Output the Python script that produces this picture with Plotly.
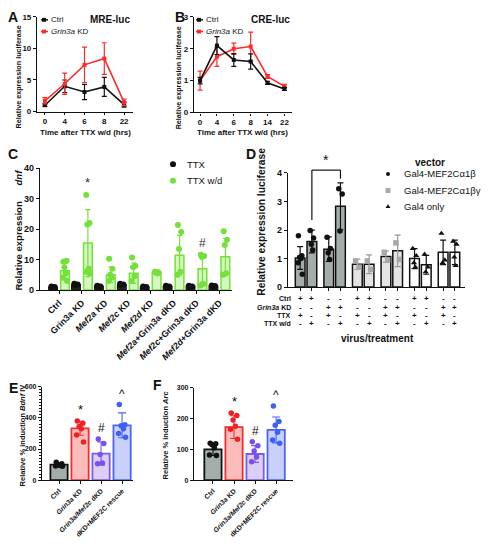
import plotly.graph_objects as go

# page is drawn with an 8px body margin, so the figure is 16px smaller than the window
W, H = 476, 530
OFF = 8
FONT = "Liberation Sans, Arial, Helvetica, sans-serif"

# ---------------- data ----------------
# Panel A: MRE-luc time course
time_a = ["0", "4", "6", "8", "22"]
mre_ctrl = [1.0, 4.0, 3.1, 3.9, 1.1]
mre_ctrl_sem = [0.2, 1.0, 1.2, 1.5, 0.4]
mre_kd = [1.7, 4.4, 7.4, 8.4, 1.45]
mre_kd_sem = [0.5, 1.7, 2.8, 2.5, 0.5]
mre_sig = ["", "", "*", "*", ""]

# Panel B: CRE-luc time course
time_b = ["0", "4", "6", "8", "14", "22"]
cre_ctrl = [1.0, 2.1, 1.65, 1.6, 0.93, 0.74]
cre_ctrl_sem = [0.1, 0.28, 0.2, 0.24, 0.05, 0.05]
cre_kd = [1.0, 1.75, 2.0, 2.07, 1.13, 0.82]
cre_kd_sem = [0.3, 0.3, 0.18, 0.45, 0.06, 0.06]

# Panel C: Bdnf expression
c_groups = ["Ctrl", "Grin3a KD", "<i>Mef2a</i> KD", "<i>Mef2c</i> KD", "<i>Mef2d</i> KD",
            "<i>Mef2a</i>+Grin3a dKD", "<i>Mef2c</i>+Grin3a dKD", "<i>Mef2d</i>+Grin3a dKD"]
c_ttx = [1.0, 1.8, 1.2, 1.8, 1.0, 1.2, 1.2, 1.3]
c_ttx_sem = [0.15, 0.3, 0.15, 0.3, 0.1, 0.15, 0.15, 0.15]
c_ttx_pts = [[1.2, 1.0, 0.8], [2.1, 1.8, 1.5], [1.4, 1.2, 1.0], [2.1, 1.8, 1.5],
             [1.2, 1.0, 0.8], [1.4, 1.2, 1.0], [1.4, 1.2, 1.0], [1.5, 1.3, 1.1]]
c_wd = [6.3, 15.4, 5.0, 5.5, 5.8, 11.4, 7.0, 10.9]
c_wd_sem = [2.5, 11.0, 2.5, 3.3, 0.3, 6.5, 4.5, 6.0]
c_wd_pts = [[9.3, 9.6, 7.5, 5.5, 4.0, 3.0], [31.2, 22.0, 21.5, 7.0, 6.0, 5.5],
            [10.3, 7.0, 5.0, 4.0, 3.0], [10.7, 8.0, 7.5, 4.5, 3.0], [6.0, 5.8, 5.6, 5.4],
            [21.3, 19.0, 13.5, 6.0, 5.0], [11.6, 11.2, 10.8, 2.0, 1.5], [19.3, 16.5, 14.8, 5.5, 5.0]]
c_sig = ["", "*", "", "", "", "", "#", ""]

# Panel D: Gal4-MEF2C reporter
d_vectors = ["Gal4-MEF2Cα1β", "Gal4-MEF2Cα1βγ", "Gal4 only"]
d_vals = [[1.02, 1.6, 1.33, 2.83], [0.8, 0.8, 1.07, 1.27], [1.0, 0.78, 1.22, 1.22]]
d_sem = [[0.4, 0.4, 0.43, 0.82], [0.18, 0.33, 0.2, 0.55], [0.35, 0.33, 0.43, 0.43]]
d_pts = [[[1.8, 1.1, 1.05, 1.0, 0.85, 0.45], [1.98, 1.72, 1.5, 1.3], [1.75, 1.35, 1.2, 0.97], [3.45, 3.26, 1.97]],
         [[0.92, 0.7], [0.92, 0.62], [1.22, 0.95], [1.55, 0.97]],
         [[1.35, 1.1, 0.85, 0.7], [1.15, 0.7, 0.53], [1.88, 0.95, 0.85], [1.6, 1.5, 1.05, 0.75]]]
d_row_names = ["Ctrl", "<i>Grin3a</i> KD", "TTX", "TTX w/d"]
d_rows = [["+", "+", "-", "-", "+", "+", "-", "-", "+", "+", "-", "-"],
          ["-", "-", "+", "+", "-", "-", "+", "+", "-", "-", "+", "+"],
          ["+", "-", "+", "-", "+", "-", "+", "-", "+", "-", "+", "-"],
          ["-", "+", "-", "+", "-", "+", "-", "+", "-", "+", "-", "+"]]

# Panels E / F
ef_groups = ["Ctrl", "<i>Grin3a</i> KD", "<i>Grin3a/Mef2c</i> dKD", "dKD+MEF2C rescue"]
e_vals = [100, 333, 171, 352]
e_sem = [10, 45, 75, 80]
e_pts = [[115, 105, 100, 95, 92, 90], [380, 365, 345, 330, 290, 245],
         [265, 235, 165, 110, 105], [485, 355, 350, 330, 300, 275]]
f_vals = [100, 172, 85, 163]
f_sem = [20, 37, 27, 42]
f_pts = [[120, 118, 115, 105, 82, 80], [218, 210, 195, 175, 165, 133],
         [125, 112, 95, 75, 60], [240, 190, 178, 155, 130, 120]]
ef_sig = ["", "*", "#", "^"]

# ---------------- helpers (window pixels -> paper) ----------------
def PX(x):
    return (x - OFF) / W

def PY(y):
    return 1 - (y - OFF) / H

def dom_x(a, b):
    return [PX(a), PX(b)]

def dom_y(top, bot):
    return [PY(bot), PY(top)]

jit = [-0.12, 0.12, -0.04, 0.06, -0.15, 0.15, 0.0]
BLACK = "#111111"
RED = "#ff2a2a"
GREEN = "#74e03a"
GREEN_FILL = "#d6f7c2"
ef_fill = ["#a3adaa", "#fbbcbc", "#dccff7", "#c9d1fb"]
ef_line = ["#111111", "#f03030", "#7a5af0", "#4a64f5"]
ef_dot = ["#111111", "#f02020", "#7a4ff0", "#3f5ff5"]
d_fill = ["#a3adaa", "#e4e4e4", "#ffffff"]
d_dot = ["#111111", "#a8a8a8", "#111111"]
d_sym = ["circle", "square", "triangle-up"]
d_err_col = ["#111111", "#9a9a9a", "#111111"]

fig = go.Figure()
ann = []
shapes = []

# ---------------- Panel A ----------------
for ys, es, col in [(mre_ctrl, mre_ctrl_sem, BLACK), (mre_kd, mre_kd_sem, RED)]:
    fig.add_trace(go.Scatter(x=time_a, y=ys, mode="lines+markers",
                             line=dict(color=col, width=1.6),
                             marker=dict(symbol="square", size=4, color=col),
                             error_y=dict(type="data", array=es, color=col, thickness=1.2, width=2.5),
                             xaxis="x", yaxis="y", showlegend=False, cliponaxis=False))
for i, s in enumerate(mre_sig):
    if s:
        ann.append(dict(x=time_a[i], y=mre_kd[i] + mre_kd_sem[i] + 0.2, xref="x", yref="y",
                        text=s, showarrow=False, yanchor="bottom", font=dict(size=15, color=BLACK)))

# ---------------- Panel B ----------------
for ys, es, col in [(cre_kd, cre_kd_sem, RED), (cre_ctrl, cre_ctrl_sem, BLACK)]:
    fig.add_trace(go.Scatter(x=time_b, y=ys, mode="lines+markers",
                             line=dict(color=col, width=1.6),
                             marker=dict(symbol="square", size=4, color=col),
                             error_y=dict(type="data", array=es, color=col, thickness=1.2, width=2.5),
                             xaxis="x2", yaxis="y2", showlegend=False, cliponaxis=False))

# ---------------- Panel C ----------------
nC = len(c_groups)
xb = [i - 0.26 for i in range(nC)]
xg = [i + 0.26 for i in range(nC)]
fig.add_trace(go.Bar(x=xb, y=c_ttx, width=0.38,
                     marker=dict(color="#2a2a2a", line=dict(color=BLACK, width=1.2)),
                     error_y=dict(type="data", array=c_ttx_sem, color=BLACK, thickness=1.2, width=2.5),
                     xaxis="x3", yaxis="y3", showlegend=False))
fig.add_trace(go.Bar(x=xg, y=c_wd, width=0.38,
                     marker=dict(color=GREEN_FILL, line=dict(color=GREEN, width=1.5)),
                     error_y=dict(type="data", array=c_wd_sem, color=GREEN, thickness=1.2, width=2.5),
                     xaxis="x3", yaxis="y3", showlegend=False))
bx, by, gx, gy = [], [], [], []
for i in range(nC):
    for j, v in enumerate(c_ttx_pts[i]):
        bx.append(xb[i] + jit[j] * 0.6)
        by.append(v)
    for j, v in enumerate(c_wd_pts[i]):
        gx.append(xg[i] + jit[j] * 0.6)
        gy.append(v)
fig.add_trace(go.Scatter(x=bx, y=by, mode="markers", marker=dict(size=6, color=BLACK),
                         xaxis="x3", yaxis="y3", showlegend=False))
fig.add_trace(go.Scatter(x=gx, y=gy, mode="markers", marker=dict(size=6, color=GREEN),
                         xaxis="x3", yaxis="y3", showlegend=False))
for i, s in enumerate(c_sig):
    if s:
        top = max(max(c_wd_pts[i]), c_wd[i] + c_wd_sem[i])
        ann.append(dict(x=xg[i], y=top + 1.0, xref="x3", yref="y3", text=s, showarrow=False,
                        yanchor="bottom", font=dict(size=13 if s == "*" else 12, color="#333")))

# ---------------- Panel D ----------------
d_x = [p + (m - 0.5) * 0.41 for p in range(6) for m in range(2)]
for g in range(3):
    xs = d_x[4 * g: 4 * g + 4]
    fig.add_trace(go.Bar(x=xs, y=d_vals[g], width=0.34,
                         marker=dict(color=d_fill[g], line=dict(color=BLACK, width=1.5)),
                         error_y=dict(type="data", array=d_sem[g], color=d_err_col[g], thickness=1.2, width=3),
                         xaxis="x4", yaxis="y4", showlegend=False))
    px_, py_ = [], []
    for k in range(4):
        for j, v in enumerate(d_pts[g][k]):
            px_.append(xs[k] + jit[j] * 0.5)
            py_.append(v)
    fig.add_trace(go.Scatter(x=px_, y=py_, mode="markers",
                             marker=dict(symbol=d_sym[g], size=5.5, color=d_dot[g]),
                             xaxis="x4", yaxis="y4", showlegend=False))
# significance bracket (bar 2 vs bar 4 of first vector)
D_YMAX = 4.0
bl = d_vals[0][1] + d_sem[0][1] + 0.35
br = d_vals[0][3] + d_sem[0][3] + 0.15
bt = 4.1
for (x0, y0, x1, y1) in [(d_x[1], bl, d_x[1], bt), (d_x[1], bt, d_x[3], bt), (d_x[3], bt, d_x[3], br)]:
    shapes.append(dict(type="line", xref="x4", yref="y4 domain", x0=x0, x1=x1,
                       y0=y0 / D_YMAX, y1=y1 / D_YMAX, line=dict(color=BLACK, width=1.2)))
ann.append(dict(x=(d_x[1] + d_x[3]) / 2, y=bt / D_YMAX, xref="x4", yref="y4 domain", text="*",
                showarrow=False, yanchor="bottom", font=dict(size=14, color=BLACK)))
# treatment table
row_y = [301, 310, 318, 326]
for r, name in enumerate(d_row_names):
    ann.append(dict(x=PX(293), y=PY(row_y[r]), xref="paper", yref="paper", text=name,
                    showarrow=False, xanchor="right", yanchor="middle",
                    font=dict(size=7, color=BLACK, family=FONT, weight="bold")))
    for k, sgn in enumerate(d_rows[r]):
        ann.append(dict(x=d_x[k], y=PY(row_y[r]), xref="x4", yref="paper", text=sgn,
                        showarrow=False, xanchor="center", yanchor="middle",
                        font=dict(size=8, color=BLACK, family=FONT, weight="bold")))

# ---------------- Panels E / F ----------------
for vals, sem, pts, xa, ya, ymax in [(e_vals, e_sem, e_pts, "x5", "y5", 600),
                                       (f_vals, f_sem, f_pts, "x6", "y6", 300)]:
    for i in range(len(ef_groups)):
        fig.add_trace(go.Bar(x=[i], y=[vals[i]], width=0.82,
                             marker=dict(color=ef_fill[i], line=dict(color=ef_line[i], width=1.8)),
                             error_y=dict(type="data", array=[sem[i]], color=ef_line[i], thickness=1.1, width=4),
                             xaxis=xa, yaxis=ya, showlegend=False))
        fig.add_trace(go.Scatter(x=[i + jit[j] * 1.1 for j in range(len(pts[i]))], y=pts[i],
                                 mode="markers", marker=dict(size=5.5, color=ef_dot[i]),
                                 xaxis=xa, yaxis=ya, showlegend=False))
        if ef_sig[i]:
            top = max(max(pts[i]), vals[i] + sem[i])
            ann.append(dict(x=i, y=top + ymax * 0.02, xref=xa, yref=ya, text=ef_sig[i],
                            showarrow=False, yanchor="bottom",
                            font=dict(size=13 if ef_sig[i] == "*" else 12, color=BLACK)))

# ---------------- axes ----------------
def ax(domain, anchor, size=8, **kw):
    d = dict(domain=domain, anchor=anchor, showgrid=False, zeroline=False, showline=True,
             linecolor=BLACK, linewidth=1.2, ticks="outside", ticklen=3, tickwidth=1.1,
             tickcolor=BLACK, tickfont=dict(family=FONT, size=size, color=BLACK, weight="bold"))
    d.update(kw)
    return d

layout_axes = dict(
    xaxis=ax(dom_x(37, 133), "y", type="category", range=[-0.4, 4.45], ticklen=2),
    yaxis=ax(dom_y(12, 109), "x", range=[0, 15], tickvals=[0, 5, 10, 15]),
    xaxis2=ax(dom_x(194, 292), "y2", type="category", range=[-0.36, 5.45], ticklen=2),
    yaxis2=ax(dom_y(12, 110), "x2", range=[0, 3], tickvals=[0, 1, 2, 3]),
    xaxis3=ax(dom_x(40, 232), "y3", size=9, range=[-0.83, 7.55], tickvals=list(range(nC)),
              ticktext=c_groups, tickangle=-45),
    yaxis3=ax(dom_y(167, 292), "x3", size=9, range=[0, 40], tickvals=[0, 10, 20, 30, 40]),
    xaxis4=ax(dom_x(288, 465), "y4", range=[-0.63, 5.56], tickvals=d_x, ticktext=[""] * 12),
    yaxis4=ax(dom_y(172, 289), "x4", size=9, range=[0, D_YMAX], tickvals=[0, 1, 2, 3, 4]),
    xaxis5=ax(dom_x(42, 133), "y5", size=6.8, range=[-0.81, 3.52], tickvals=list(range(4)),
              ticktext=ef_groups, tickangle=-45),
    yaxis5=ax(dom_y(391, 487), "x5", size=7, range=[0, 600], tickvals=[0, 200, 400, 600],
              minor=dict(ticks="outside", ticklen=1.5, dtick=20, tickcolor=BLACK)),
    xaxis6=ax(dom_x(194, 293), "y6", size=6.8, range=[-0.9, 3.8], tickvals=list(range(4)),
              ticktext=ef_groups, tickangle=-45),
    yaxis6=ax(dom_y(392, 487), "x6", size=7, range=[0, 300], tickvals=[0, 100, 200, 300]),
)

# ---------------- text ----------------
def txt(x, y, s, size, bold=False, angle=0, xanchor="center", color=BLACK):
    f = dict(family=FONT, size=size, color=color)
    if bold:
        f["weight"] = "bold"
    ann.append(dict(x=PX(x), y=PY(y), xref="paper", yref="paper", text=s, showarrow=False,
                    textangle=angle, xanchor=xanchor, yanchor="middle", font=f))

# panel letters
for L, x, y in [("A", 13, 12.5), ("B", 180, 12.5), ("C", 13, 153), ("D", 251, 153), ("E", 13, 392), ("F", 157, 389)]:
    txt(x, y, L, 14, bold=True)
# titles
txt(110, 15, "MRE-luc", 10, bold=True)
txt(270, 15, "CRE-luc", 10, bold=True)
# axis titles
txt(18, 74, "Relative expression luciferase", 7.2, bold=True, angle=-90)
txt(178, 75, "Relative expression luciferase", 7.2, bold=True, angle=-90)
txt(85, 130, "Time after TTX w/d (hrs)", 8, bold=True)
txt(242, 130, "Time after TTX w/d (hrs)", 8, bold=True)
txt(19, 231, "Relative expression\u00a0\u00a0\u00a0\u00a0\u00a0\u00a0<i>dnf</i>", 9.5, bold=True, angle=-90)
txt(262, 222, "Relative expression luciferase", 10.3, bold=True, angle=-90)
txt(377, 342, "virus/treatment", 10, bold=True)
txt(22, 441, "Relative % induction <i>Bdnf</i> IV", 7.5, bold=True, angle=-90)
txt(165, 441, "Relative % induction <i>Arc</i>", 7.5, bold=True, angle=-90)

# legends A / B
for lx in [44, 199]:
    for yy, col, name in [(15, BLACK, "Ctrl"), (27, RED, "<i>Grin3a</i> KD")]:
        shapes.append(dict(type="line", xref="paper", yref="paper", x0=PX(lx - 3), x1=PX(lx + 4),
                           y0=PY(yy), y1=PY(yy), line=dict(color=col, width=1.5)))
        shapes.append(dict(type="rect", xref="paper", yref="paper", x0=PX(lx - 2), x1=PX(lx + 2),
                           y0=PY(yy + 2), y1=PY(yy - 2), fillcolor=col, line=dict(width=0)))
        txt(lx + 5, yy, name, 8, xanchor="left")
# legend C
for yy, col, name in [(163, BLACK, "TTX"), (180, GREEN, "TTX w/d")]:
    shapes.append(dict(type="circle", xref="paper", yref="paper", x0=PX(170), x1=PX(176),
                       y0=PY(yy + 3), y1=PY(yy - 3), fillcolor=col, line=dict(width=0)))
    txt(185, yy, name, 9.5, xanchor="left")
# legend D
txt(430, 161, "vector", 10, bold=True)
shapes.append(dict(type="circle", xref="paper", yref="paper", x0=PX(386), x1=PX(390),
                   y0=PY(175), y1=PY(171), fillcolor=BLACK, line=dict(width=0)))
shapes.append(dict(type="rect", xref="paper", yref="paper", x0=PX(385.5), x1=PX(390.5),
                   y0=PY(192.5), y1=PY(187.5), fillcolor="#a8a8a8", line=dict(width=0)))
shapes.append(dict(type="path", xref="paper", yref="paper",
                   path="M %f %f L %f %f L %f %f Z" % (PX(385.5), PY(208), PX(390.5), PY(208), PX(388), PY(204)),
                   fillcolor=BLACK, line=dict(width=0)))
for yy, name in zip([173, 190, 206], d_vectors):
    txt(402, yy, name, 9.5, xanchor="left")

fig.update_layout(
    width=W, height=H, margin=dict(l=0, r=0, t=0, b=0),
    paper_bgcolor="white", plot_bgcolor="white", barmode="overlay",
    font=dict(family=FONT, color=BLACK),
    annotations=ann, shapes=shapes, showlegend=False,
    **layout_axes,
)
fig.write_html("out.html")
